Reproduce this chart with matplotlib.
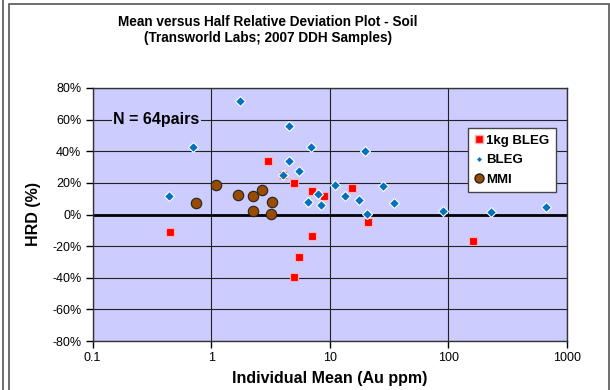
import matplotlib.pyplot as plt
from matplotlib.lines import Line2D
from matplotlib.patches import Rectangle
from matplotlib.ticker import FixedLocator, FuncFormatter, NullLocator

plt.rcParams['font.family'] = ['Liberation Sans', 'DejaVu Sans']

# 1kg BLEG (mean Au ppm, HRD %)
bleg1kg_x = [0.45, 3.0, 4.0, 5.0, 7.1, 8.9, 15.5, 21.1, 7.1, 5.5, 5.0, 160]
bleg1kg_y = [-10.8, 33.8, 25.0, 20.1, 14.6, 11.6, 16.7, -4.7, -13.4, -26.7, -39.4, -17.0]

# BLEG
bleg_x = [1.75, 4.5, 0.7, 7.0, 19.9, 4.5, 4.0, 5.5, 0.445, 7.95, 6.5, 8.5,
          11.0, 13.5, 17.5, 28.1, 34.5, 20.8, 90, 227, 670]
bleg_y = [71.6, 55.7, 43.0, 43.0, 40.2, 33.8, 25.2, 27.7, 11.4, 12.7, 8.0, 6.1,
          18.4, 11.6, 8.9, 18.2, 7.4, 0.4, 2.1, 1.5, 4.9]

# MMI
mmi_x = [1.1, 1.69, 2.25, 2.69, 3.25, 2.25, 3.19, 0.74]
mmi_y = [18.6, 12.3, 11.4, 15.7, 8.0, 2.5, 0.2, 7.0]

y_ticks = [-80, -60, -40, -20, 0, 20, 40, 60, 80]
x_ticks = [0.1, 1, 10, 100, 1000]
x_tick_labels = ['0.1', '1', '10', '100', '1000']

fig = plt.figure(figsize=(6.1, 3.9), dpi=100)
ax = fig.add_axes([92.5 / 610, 1 - 341 / 390, 474.5 / 610, 253 / 390])
ax.set_facecolor('#CCCCFF')

ax.set_xscale('log')
ax.set_xlim(0.1, 1000)
ax.set_ylim(-80, 80)
ax.xaxis.set_major_locator(FixedLocator(x_ticks))
ax.xaxis.set_minor_locator(NullLocator())
ax.xaxis.set_major_formatter(FuncFormatter(lambda v, p: x_tick_labels[x_ticks.index(v)] if v in x_ticks else ''))
ax.set_yticks(y_ticks)
ax.yaxis.set_major_formatter(FuncFormatter(lambda v, p: '%d%%' % v))
ax.tick_params(labelsize=9, length=5, width=1, color='black', direction='out', pad=3)
ax.grid(True, color='#222222', lw=0.8)
ax.set_axisbelow(True)
for s in ax.spines.values():
    s.set_color('#333333')
    s.set_linewidth(1)
ax.axhline(0, color='black', lw=2, zorder=1.5)

ax.plot(bleg1kg_x, bleg1kg_y, 's', ms=5.8, color='#FF0000', mec='#FFB0B0', mew=0.8, ls='none', zorder=3)
ax.plot(bleg_x, bleg_y, 'D', ms=4.8, color='#0070C0', mec='white', mew=0.8, ls='none', zorder=4)
ax.plot(mmi_x, mmi_y, 'o', ms=7.5, color='#994C00', mec='#222222', mew=0.8, ls='none', zorder=5)

ax.text(0.15, 60, 'N = 64pairs', fontsize=11.5, fontweight='bold', va='center', ha='left',
        bbox=dict(facecolor='#CCCCFF', edgecolor='none', pad=1), zorder=6)

handles = [
    Line2D([], [], marker='s', ms=5.8, color='#FF0000', mec='#FFB0B0', ls='none'),
    Line2D([], [], marker='D', ms=3.5, color='#0070C0', mec='white', ls='none'),
    Line2D([], [], marker='o', ms=6.5, color='#994C00', mec='#222222', ls='none'),
]
leg = ax.legend(handles, ['1kg BLEG', 'BLEG', 'MMI'], loc='upper left',
                bbox_to_anchor=((468 - 92.5) / 474.5, (341 - 128) / 253), borderaxespad=0,
                prop={'weight': 'bold', 'size': 9.5}, fancybox=False, framealpha=1,
                edgecolor='#444444', handlelength=0.6, handletextpad=0.3,
                borderpad=0.5, labelspacing=0.55)
leg.get_frame().set_linewidth(1)

ax.set_xlabel('Individual Mean (Au ppm)', fontsize=11.5, fontweight='bold', labelpad=5)
ax.set_ylabel('HRD (%)', fontsize=11.5, fontweight='bold', labelpad=8)

fig.text(268 / 610, 1 - 30 / 390, 'Mean versus Half Relative Deviation Plot - Soil\n(Transworld Labs; 2007 DDH Samples)',
         ha='center', va='center', fontsize=9.8, fontweight='bold', linespacing=1.25,
         family=['Liberation Sans Narrow', 'Liberation Sans'])

# chart frame
fig.patches.append(Rectangle((8.5 / 610, -0.05), 600 / 610, 1.05 - 4 / 390, transform=fig.transFigure,
                             fill=False, edgecolor='#555555', lw=1.2))
fig.add_artist(Line2D([3 / 610, 3 / 610], [0, 1], transform=fig.transFigure, color='#555555', lw=1.2))

fig.savefig('out.png', dpi=100)
